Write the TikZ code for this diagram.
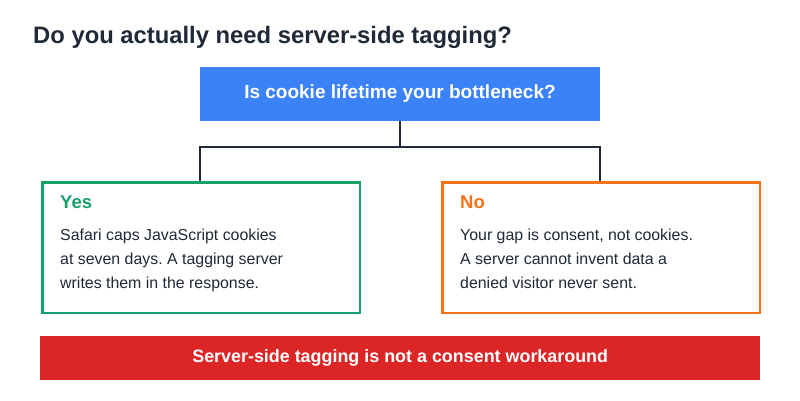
\documentclass[tikz,border=0pt]{standalone}
\usepackage{fontspec}
\setmainfont{Liberation Sans}
\usepackage{tikz}
\usetikzlibrary{positioning}
\definecolor{ink}{HTML}{1F2937}
\definecolor{qblue}{HTML}{3B82F6}
\definecolor{yesgreen}{HTML}{16A06A}
\definecolor{noorange}{HTML}{F97316}
\definecolor{warnred}{HTML}{DC2626}
\tikzset{
    answer/.style={draw,line width=2.5pt,minimum width=317.5pt,minimum height=130.5pt,anchor=north west},
    head/.style={anchor=north west,font=\fontsize{18.5}{22}\selectfont\bfseries},
    body/.style={anchor=north west,align=left,text=ink,font=\fontsize{15.9}{24}\selectfont,inner sep=0pt},
    link/.style={draw=ink,line width=2pt}
}
\begin{document}
\begin{tikzpicture}[x=1pt,y=-1pt]
    \useasboundingbox[fill=white] (0,0) rectangle (800,400);
    \node[anchor=west,text=ink,font=\fontsize{23.8}{28}\selectfont\bfseries,inner sep=0pt] (title) at (33,37) {Do you actually need server-side tagging?};
    \node[fill=qblue,minimum width=400pt,minimum height=54pt,text=white,font=\fontsize{19}{22}\selectfont\bfseries] (q) at (400,94) {Is cookie lifetime your bottleneck?};
    \node[answer,draw=yesgreen] (yes) at (41.25,181.25) {};
    \node[answer,draw=noorange] (no) at (441.25,181.25) {};
    \node[head,text=yesgreen,inner sep=0pt] (yeshead) at (60,196) {Yes};
    \node[body] (yesbody) at (60,229) {Safari caps JavaScript cookies\\at seven days.\ A tagging server\\writes them in the response.};
    \node[head,text=noorange,inner sep=0pt] (nohead) at (460,196) {No};
    \node[body] (nobody) at (460,229) {Your gap is consent, not cookies.\\A server cannot invent data a\\denied visitor never sent.};
    \node[fill=warnred,minimum width=720pt,minimum height=44pt,text=white,font=\fontsize{17.9}{21}\selectfont\bfseries,anchor=north west] (warn) at (40,336) {Server-side tagging is not a consent workaround};
    \coordinate (split) at (400,147);
    \draw[link] (q.south) -- (split);
    \draw[link] (yes.north -| 200,0) |- (split) -| (no.north -| 600,0);
\end{tikzpicture}
\end{document}
